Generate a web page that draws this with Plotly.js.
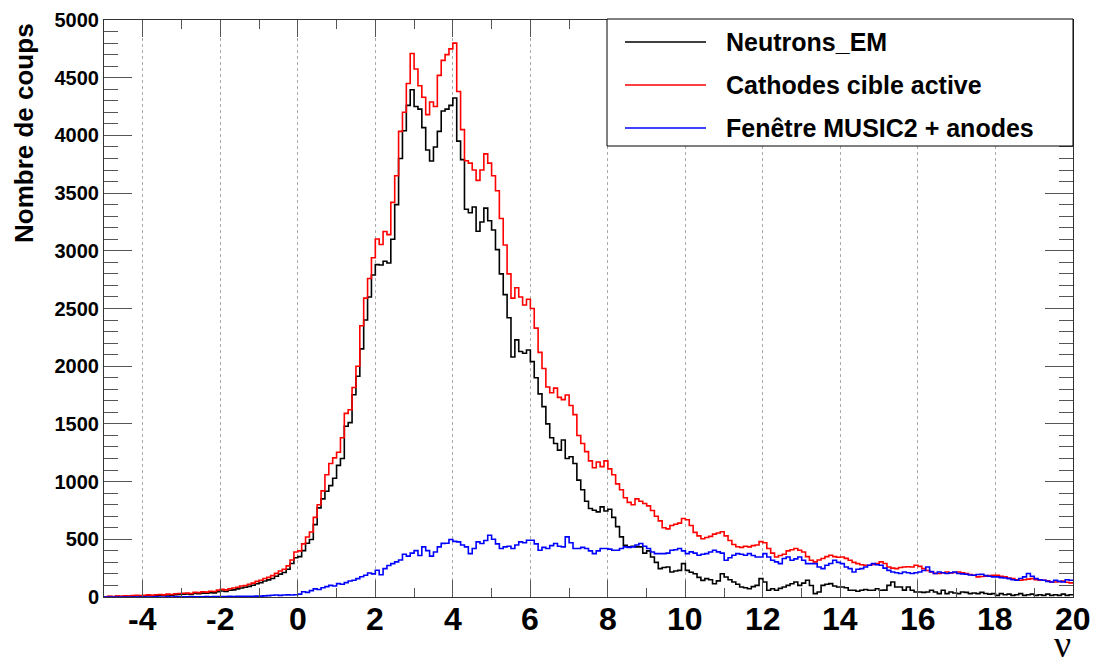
<!DOCTYPE html>
<html>
<head>
<meta charset="utf-8">
<script src="https://cdn.plot.ly/plotly-3.0.1.min.js"></script>
<style>html,body{margin:0;padding:0;background:#fff;}#chart{width:1096px;height:666px;}</style>
</head>
<body>
<div id="chart"></div>
<script>
// Histogram binning (nu axis)
const binLow = -5;
const binWidth = 0.1;

const seriesNames = ['Neutrons_EM', 'Cathodes cible active', 'Fen\u00eatre MUSIC2 + anodes'];
const seriesColors = ['#000000', '#ff0000', '#0000ff'];

// x tick values and labels (ROOT style, hyphen minus)
const xTickValues = [-4, -2, 0, 2, 4, 6, 8, 10, 12, 14, 16, 18, 20];
const xTickLabels = ['-4', '-2', '0', '2', '4', '6', '8', '10', '12', '14', '16', '18', '20'];

// Counts per bin, from nu = -5 to 20
const neutronsEM = [
  1, 3, 2, 5, 4, 7, 5, 8, 10, 8,
  10, 12, 10, 15, 16, 13, 18, 16, 20, 22,
  24, 26, 22, 30, 28, 34, 32, 38, 36, 46,
  52, 48, 58, 62, 70, 78, 84, 92, 102, 115,
  125, 138, 148, 160, 180, 198, 212, 240, 290, 340,
  350, 402, 466, 498, 627, 772, 850, 916, 965, 1029,
  1141, 1200, 1479, 1511, 1752, 1913, 2150, 2400, 2600, 2790,
  2880, 2877, 2910, 2894, 3100, 3400, 3800, 4040, 4260, 4395,
  4250, 4228, 4067, 3874, 3778, 3900, 4035, 4212, 4228, 4260,
  4324, 3950, 3790, 3360, 3330, 3380, 3170, 3250, 3370, 3260,
  3180, 3010, 2800, 2620, 2420, 2080, 2228, 2127, 2112, 2141,
  2040, 1900, 1760, 1650, 1500, 1380, 1330, 1273, 1360, 1200,
  1215, 1157, 1013, 930, 830, 767, 752, 738, 781, 745,
  760, 690, 610, 521, 449, 434, 440, 434, 434, 380,
  400, 347, 300, 246, 255, 260, 217, 225, 231, 289,
  231, 215, 202, 170, 144, 159, 150, 115, 140, 202,
  173, 150, 130, 110, 87, 80, 72, 90, 101, 159,
  130, 58, 72, 58, 75, 87, 101, 115, 130, 101,
  120, 145, 100, 29, 43, 101, 110, 116, 95, 87,
  87, 80, 58, 58, 50, 58, 65, 58, 58, 72,
  58, 60, 101, 130, 87, 87, 60, 87, 58, 43,
  43, 40, 43, 58, 43, 29, 58, 29, 43, 35,
  29, 43, 40, 29, 35, 29, 40, 30, 25, 29,
  14, 29, 20, 25, 14, 20, 29, 14, 20, 25,
  14, 20, 14, 25, 14, 20, 14, 25, 14, 20
];

const cathodesCible = [
  2, 5, 3, 8, 6, 10, 8, 12, 15, 12,
  15, 18, 14, 20, 22, 18, 25, 22, 28, 30,
  32, 35, 30, 40, 38, 45, 42, 50, 48, 60,
  66, 62, 72, 78, 85, 95, 100, 110, 120, 135,
  145, 160, 170, 185, 205, 225, 240, 270, 320, 390,
  400, 460, 520, 563, 690, 800, 920, 1060, 1157, 1206,
  1254, 1380, 1591, 1623, 1816, 2000, 2350, 2590, 2760, 2940,
  3102, 3054, 3167, 3140, 3420, 3650, 4035, 4200, 4450, 4710,
  4575, 4430, 4330, 4180, 4290, 4250, 4520, 4650, 4700, 4750,
  4800, 4380, 4050, 3780, 3760, 3700, 3610, 3700, 3840, 3760,
  3650, 3520, 3280, 3050, 2800, 2590, 2680, 2600, 2530, 2580,
  2500, 2330, 2120, 1980, 1820, 1770, 1810, 1730, 1710, 1750,
  1660, 1580, 1400, 1330, 1260, 1180, 1120, 1170, 1130, 1180,
  1110, 1060, 980, 930, 860, 820, 800, 850, 830, 810,
  790, 750, 700, 660, 600, 590, 620, 630, 640, 680,
  670, 620, 560, 530, 505, 515, 525, 545, 555, 565,
  530, 490, 455, 435, 430, 440, 434, 445, 450, 480,
  470, 420, 380, 347, 360, 370, 400, 410, 420, 405,
  390, 350, 318, 304, 320, 333, 350, 362, 350, 345,
  347, 335, 318, 300, 289, 280, 275, 275, 282, 289,
  304, 290, 260, 250, 246, 255, 260, 262, 260, 275,
  265, 246, 230, 217, 205, 203, 210, 217, 208, 212,
  217, 210, 203, 195, 188, 174, 178, 180, 185, 188,
  188, 180, 174, 165, 159, 150, 145, 150, 155, 159,
  150, 145, 145, 140, 130, 130, 132, 139, 128, 122
];

const fenetreMusic = [
  0, 0, 0, 0, 0, 0, 0, 0, 0, 0,
  0, 0, 0, 1, 0, 0, 1, 0, 1, 1,
  1, 1, 2, 1, 2, 2, 3, 2, 3, 3,
  4, 3, 5, 4, 5, 6, 5, 6, 7, 8,
  8, 10, 12, 15, 17, 14, 17, 18, 17, 20,
  25, 45, 40, 55, 70, 65, 80, 90, 101, 95,
  116, 110, 125, 139, 145, 159, 175, 188, 208, 200,
  232, 193, 246, 273, 289, 304, 321, 370, 354, 380,
  402, 360, 434, 402, 354, 390, 434, 465, 466, 498,
  482, 478, 450, 434, 376, 420, 478, 463, 490, 535,
  500, 460, 420, 434, 440, 420, 450, 478, 470, 492,
  492, 460, 405, 430, 420, 445, 463, 440, 434, 521,
  470, 420, 420, 430, 420, 400, 376, 400, 420, 420,
  415, 405, 405, 420, 434, 430, 434, 450, 463, 440,
  420, 390, 376, 376, 376, 380, 405, 410, 420, 400,
  376, 391, 380, 362, 370, 376, 390, 405, 391, 380,
  318, 340, 362, 376, 370, 362, 376, 360, 347, 347,
  376, 347, 318, 304, 289, 333, 347, 318, 330, 347,
  318, 289, 289, 289, 260, 246, 275, 290, 318, 300,
  289, 260, 246, 217, 240, 246, 260, 275, 289, 280,
  275, 250, 231, 217, 210, 203, 217, 210, 203, 210,
  217, 230, 260, 220, 203, 217, 210, 203, 210, 217,
  203, 200, 197, 190, 188, 195, 197, 185, 180, 174,
  174, 168, 165, 159, 150, 145, 160, 174, 203, 180,
  159, 150, 145, 135, 130, 145, 135, 130, 150, 145
];

const yTitle = 'Nombre de coups';
const xTitle = '\u03bd';

function stepTrace(counts, name, color) {
  const xs = [], ys = [];
  for (let i = 0; i < counts.length; i++) {
    xs.push(binLow + i * binWidth);
    ys.push(counts[i]);
  }
  xs.push(binLow + counts.length * binWidth);
  ys.push(counts[counts.length - 1]);
  return {
    x: xs, y: ys, type: 'scatter', mode: 'lines', name: name,
    line: {shape: 'hv', color: color, width: 1.6},
    hoverinfo: 'skip'
  };
}

const allSeries = [neutronsEM, cathodesCible, fenetreMusic];
const data = allSeries.map((s, k) => stepTrace(s, seriesNames[k], seriesColors[k]));

// Plot area geometry in pixels (for legend placement)
const W = 1096, H = 666;
const L = 104, R = 1073, T = 20, B = 597;
const pw = R - L, ph = B - T;
const px = v => (v - L) / pw;
const py = v => (B - v) / ph;

const legendRows = [42, 85, 128];
const shapes = [{
  type: 'rect', xref: 'paper', yref: 'paper',
  x0: px(607), x1: px(1073), y0: py(146), y1: py(19),
  fillcolor: 'white', line: {color: '#000', width: 1}, layer: 'above'
}];
const annotations = [];
seriesNames.forEach((n, k) => {
  shapes.push({
    type: 'line', xref: 'paper', yref: 'paper',
    x0: px(625), x1: px(706), y0: py(legendRows[k]), y1: py(legendRows[k]),
    line: {color: seriesColors[k], width: 1.6}, layer: 'above'
  });
  annotations.push({
    xref: 'paper', yref: 'paper', x: px(724), y: py(legendRows[k]),
    xanchor: 'left', yanchor: 'middle', showarrow: false, text: n,
    font: {family: 'Liberation Sans, Arial, sans-serif', size: 25, weight: 'bold', color: '#000'}
  });
});
// x tick labels placed on the x scale
xTickValues.forEach((v, k) => {
  annotations.push({
    xref: 'x', yref: 'paper', x: v, y: py(619),
    xanchor: 'center', yanchor: 'middle', showarrow: false, text: xTickLabels[k],
    font: {family: 'Liberation Sans, Arial, sans-serif', size: 32, weight: 'bold', color: '#000'}
  });
});
annotations.push({
  xref: 'paper', yref: 'paper', x: px(24), y: py(21),
  xanchor: 'center', yanchor: 'top', textangle: -90, showarrow: false, text: yTitle,
  font: {family: 'Liberation Sans, Arial, sans-serif', size: 26, weight: 'bold', color: '#000'}
});
annotations.push({
  xref: 'paper', yref: 'paper', x: px(1062), y: py(644),
  xanchor: 'center', yanchor: 'middle', showarrow: false, text: xTitle,
  font: {family: 'Liberation Serif, Times New Roman, serif', size: 38, color: '#000'}
});

const layout = {
  width: W, height: H,
  margin: {l: L, r: W - R, t: T, b: H - B, pad: 0},
  paper_bgcolor: '#fff', plot_bgcolor: '#fff',
  showlegend: false,
  xaxis: {
    range: [-5, 20], tickmode: 'array', tickvals: xTickValues, ticktext: xTickLabels,
    showticklabels: false,
    ticks: 'inside', ticklen: 17, tickwidth: 1, tickcolor: '#555',
    showline: true, linecolor: '#333', linewidth: 1, mirror: 'allticks',
    showgrid: true, gridcolor: '#aaa', griddash: 'dot', gridwidth: 1,
    zeroline: false, fixedrange: true,
    minor: {dtick: 1, tick0: 0, ticks: 'inside', ticklen: 9, tickwidth: 1, tickcolor: '#555', showgrid: false}
  },
  yaxis: {
    range: [0, 5000], tick0: 0, dtick: 500,
    ticks: 'inside', ticklen: 28, tickwidth: 1, tickcolor: '#555',
    showline: true, linecolor: '#333', linewidth: 1, mirror: 'allticks',
    showgrid: false, zeroline: false, fixedrange: true,
    tickfont: {family: 'Liberation Sans, Arial, sans-serif', size: 20, weight: 'bold', color: '#000'},
    minor: {dtick: 100, tick0: 0, ticks: 'inside', ticklen: 14, tickwidth: 1, tickcolor: '#555', showgrid: false}
  },
  shapes: shapes,
  annotations: annotations
};

Plotly.newPlot('chart', data, layout, {displayModeBar: false, staticPlot: true});
</script>
</body>
</html>
